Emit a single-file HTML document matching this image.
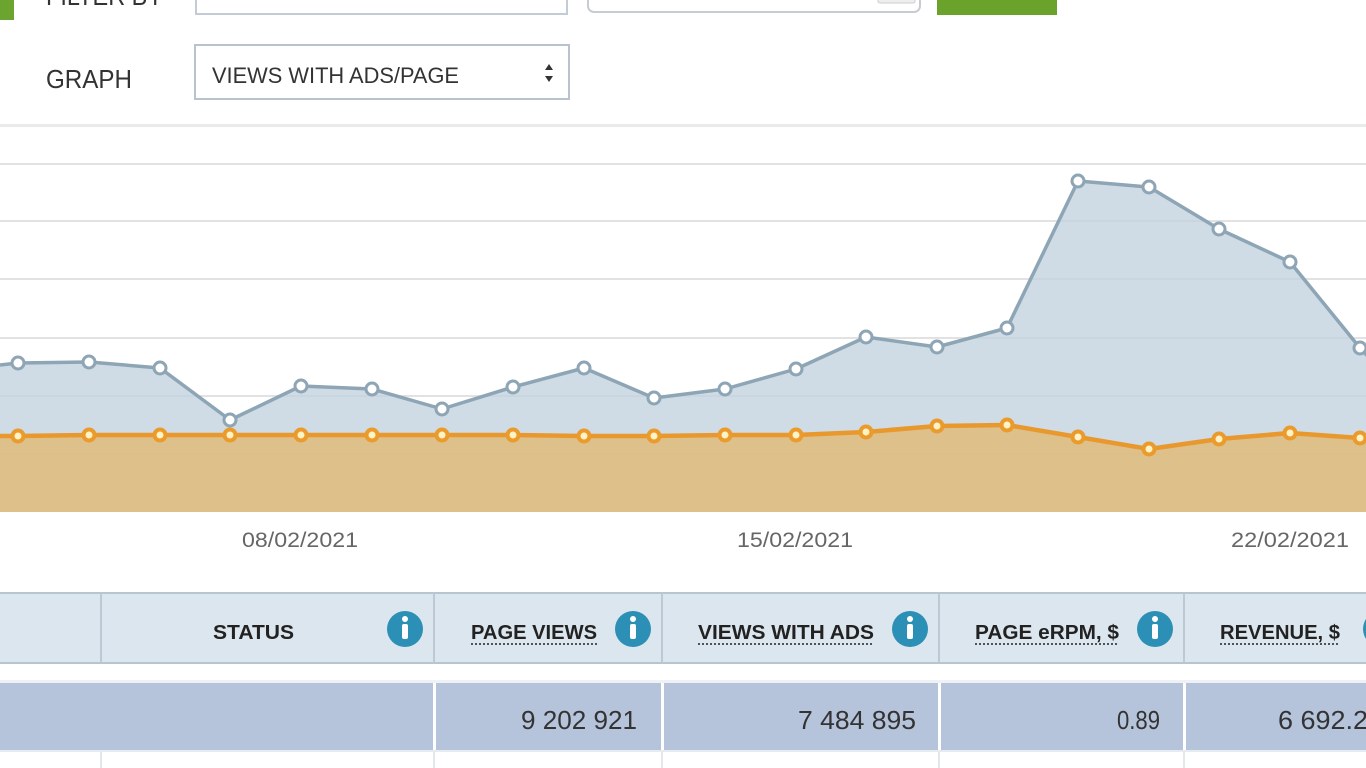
<!DOCTYPE html>
<html><head><meta charset="utf-8"><style>
html,body{margin:0;padding:0;background:#fff;width:1366px;height:768px;overflow:hidden}
svg{display:block}
</style></head><body>
<svg width="1366" height="768" viewBox="0 0 1366 768" xmlns="http://www.w3.org/2000/svg" font-family="'Liberation Sans', sans-serif">
<rect x="0" y="0" width="1366" height="768" fill="#fff"/>
<!-- top controls -->
<rect x="0" y="0" width="14" height="20" fill="#6ba42e"/>
<text x="46" y="5" font-size="26" fill="#333" textLength="117" lengthAdjust="spacingAndGlyphs">FILTER BY</text>
<rect x="196" y="-10" width="371" height="24" fill="#fff" stroke="#c3ccd6" stroke-width="2"/>
<rect x="588" y="-12" width="332" height="24" rx="6" fill="#fff" stroke="#c8ccd0" stroke-width="2"/>
<rect x="878" y="-6" width="37" height="9" rx="2" fill="#eee" stroke="#ccc" stroke-width="1"/>
<rect x="937" y="0" width="120" height="15" fill="#6aa22b"/>

<text x="46" y="88" font-size="26" fill="#333" textLength="86" lengthAdjust="spacingAndGlyphs">GRAPH</text>
<rect x="195" y="45" width="374" height="54" fill="#fff" stroke="#b8c3cf" stroke-width="2"/>
<text x="212" y="83" font-size="22" fill="#333" textLength="247" lengthAdjust="spacingAndGlyphs">VIEWS WITH ADS/PAGE</text>
<polygon points="545,70 553,70 549,64" fill="#333"/>
<polygon points="545,76 553,76 549,82" fill="#333"/>

<!-- separator -->
<rect x="0" y="124" width="1366" height="3" fill="#e8eaec"/>

<!-- gridlines -->
<g stroke="#e2e2e2" stroke-width="2">
<line x1="0" y1="164" x2="1366" y2="164"/>
<line x1="0" y1="221" x2="1366" y2="221"/>
<line x1="0" y1="279" x2="1366" y2="279"/>
<line x1="0" y1="338" x2="1366" y2="338"/>
<line x1="0" y1="396" x2="1366" y2="396"/>
<line x1="0" y1="454" x2="1366" y2="454"/>
</g>

<!-- blue area -->
<polygon fill="#c3d3df" fill-opacity="0.8" points="0,365 18,363 89,362 160,368 230,420 301,386 372,389 442,409 513,387 584,368 654,398 725,389 796,369 866,337 937,347 1007,328 1078,181 1149,187 1219,229 1290,262 1360,348 1400,390 1400,512 0,512"/>
<!-- orange area -->
<polygon fill="#dfbd82" fill-opacity="0.92" points="0,436 18,436 89,435 160,435 230,435 301,435 372,435 442,435 513,435 584,436 654,436 725,435 796,435 866,432 937,426 1007,425 1078,437 1149,449 1219,439 1290,433 1360,438 1400,438 1400,512 0,512"/>

<!-- blue line -->
<polyline fill="none" stroke="#8ea5b6" stroke-width="3.5" stroke-linejoin="round" points="0,365 18,363 89,362 160,368 230,420 301,386 372,389 442,409 513,387 584,368 654,398 725,389 796,369 866,337 937,347 1007,328 1078,181 1149,187 1219,229 1290,262 1360,348 1400,390"/>
<!-- orange line -->
<polyline fill="none" stroke="#e9982d" stroke-width="4.5" stroke-linejoin="round" points="0,436 18,436 89,435 160,435 230,435 301,435 372,435 442,435 513,435 584,436 654,436 725,435 796,435 866,432 937,426 1007,425 1078,437 1149,449 1219,439 1290,433 1360,438 1400,438"/>

<!-- blue markers -->
<g fill="#fff" stroke="#8ea5b6" stroke-width="3">
<circle cx="18" cy="363" r="6"/><circle cx="89" cy="362" r="6"/><circle cx="160" cy="368" r="6"/><circle cx="230" cy="420" r="6"/><circle cx="301" cy="386" r="6"/><circle cx="372" cy="389" r="6"/><circle cx="442" cy="409" r="6"/><circle cx="513" cy="387" r="6"/><circle cx="584" cy="368" r="6"/><circle cx="654" cy="398" r="6"/><circle cx="725" cy="389" r="6"/><circle cx="796" cy="369" r="6"/><circle cx="866" cy="337" r="6"/><circle cx="937" cy="347" r="6"/><circle cx="1007" cy="328" r="6"/><circle cx="1078" cy="181" r="6"/><circle cx="1149" cy="187" r="6"/><circle cx="1219" cy="229" r="6"/><circle cx="1290" cy="262" r="6"/><circle cx="1360" cy="348" r="6"/>
</g>
<!-- orange markers -->
<g fill="#fff2c4" stroke="#eb9a2c" stroke-width="4">
<circle cx="18" cy="436" r="5.5"/><circle cx="89" cy="435" r="5.5"/><circle cx="160" cy="435" r="5.5"/><circle cx="230" cy="435" r="5.5"/><circle cx="301" cy="435" r="5.5"/><circle cx="372" cy="435" r="5.5"/><circle cx="442" cy="435" r="5.5"/><circle cx="513" cy="435" r="5.5"/><circle cx="584" cy="436" r="5.5"/><circle cx="654" cy="436" r="5.5"/><circle cx="725" cy="435" r="5.5"/><circle cx="796" cy="435" r="5.5"/><circle cx="866" cy="432" r="5.5"/><circle cx="937" cy="426" r="5.5"/><circle cx="1007" cy="425" r="5.5"/><circle cx="1078" cy="437" r="5.5"/><circle cx="1149" cy="449" r="5.5"/><circle cx="1219" cy="439" r="5.5"/><circle cx="1290" cy="433" r="5.5"/><circle cx="1360" cy="438" r="5.5"/>
</g>

<!-- x labels -->
<g font-size="21" fill="#666">
<text x="242" y="547" textLength="116" lengthAdjust="spacingAndGlyphs">08/02/2021</text>
<text x="737" y="547" textLength="116" lengthAdjust="spacingAndGlyphs">15/02/2021</text>
<text x="1231" y="547" textLength="118" lengthAdjust="spacingAndGlyphs">22/02/2021</text>
</g>

<!-- table header -->
<rect x="0" y="593" width="1366" height="70" fill="#dce6ee"/>
<rect x="0" y="592" width="1366" height="2" fill="#b7c5d1"/>
<rect x="0" y="662" width="1366" height="2" fill="#b7c5d1"/>
<g fill="#bcc9d4">
<rect x="100" y="593" width="2" height="70"/>
<rect x="433" y="593" width="2" height="70"/>
<rect x="661" y="593" width="2" height="70"/>
<rect x="938" y="593" width="2" height="70"/>
<rect x="1183" y="593" width="2" height="70"/>
</g>
<g font-size="20" font-weight="bold" fill="#222">
<text x="213" y="639" textLength="81" lengthAdjust="spacingAndGlyphs">STATUS</text>
<text x="471" y="639" textLength="126" lengthAdjust="spacingAndGlyphs">PAGE VIEWS</text>
<text x="698" y="639" textLength="176" lengthAdjust="spacingAndGlyphs">VIEWS WITH ADS</text>
<text x="975" y="639" textLength="144" lengthAdjust="spacingAndGlyphs">PAGE eRPM, $</text>
<text x="1220" y="639" textLength="120" lengthAdjust="spacingAndGlyphs">REVENUE, $</text>
</g>
<g stroke="#222" stroke-width="1.5" stroke-dasharray="2,2">
<line x1="471" y1="644" x2="597" y2="644"/>
<line x1="698" y1="644" x2="874" y2="644"/>
<line x1="975" y1="644" x2="1119" y2="644"/>
<line x1="1220" y1="644" x2="1340" y2="644"/>
</g>
<!-- info icons -->
<g>
<circle cx="405" cy="629" r="18" fill="#2b8fb6"/>
<circle cx="633" cy="629" r="18" fill="#2b8fb6"/>
<circle cx="910" cy="629" r="18" fill="#2b8fb6"/>
<circle cx="1155" cy="629" r="18" fill="#2b8fb6"/>
<circle cx="1381" cy="629" r="18" fill="#2b8fb6"/>
</g>
<g fill="#fff">
<circle cx="405" cy="619" r="3"/><rect x="402" y="624" width="6" height="15" rx="2"/>
<circle cx="633" cy="619" r="3"/><rect x="630" y="624" width="6" height="15" rx="2"/>
<circle cx="910" cy="619" r="3"/><rect x="907" y="624" width="6" height="15" rx="2"/>
<circle cx="1155" cy="619" r="3"/><rect x="1152" y="624" width="6" height="15" rx="2"/>
</g>

<!-- data row -->
<rect x="0" y="680" width="1366" height="3" fill="#eef2f7"/>
<rect x="0" y="683" width="1366" height="67" fill="#b5c3db"/>
<rect x="0" y="750" width="1366" height="2" fill="#e6ebf2"/>
<g fill="#fff">
<rect x="433" y="683" width="3" height="67"/>
<rect x="661" y="683" width="3" height="67"/>
<rect x="938" y="683" width="3" height="67"/>
<rect x="1183" y="683" width="3" height="67"/>
</g>
<g font-size="26" fill="#333">
<text x="521" y="729" textLength="116" lengthAdjust="spacingAndGlyphs">9 202 921</text>
<text x="798" y="729" textLength="118" lengthAdjust="spacingAndGlyphs">7 484 895</text>
<text x="1117" y="729" textLength="43" lengthAdjust="spacingAndGlyphs">0.89</text>
<text x="1278" y="729" textLength="90" lengthAdjust="spacingAndGlyphs">6 692.2</text>
</g>
<!-- next row lines -->
<g fill="#e2e7ec">
<rect x="100" y="752" width="2" height="16"/>
<rect x="433" y="752" width="2" height="16"/>
<rect x="661" y="752" width="2" height="16"/>
<rect x="938" y="752" width="2" height="16"/>
<rect x="1183" y="752" width="2" height="16"/>
</g>
</svg>
</body></html>
